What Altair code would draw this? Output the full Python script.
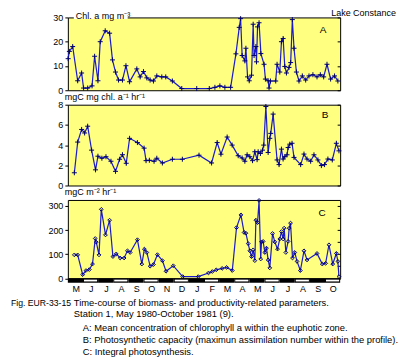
import altair as alt
import pandas as pd

FONT = "Liberation Sans, Arial, sans-serif"
LINE = "#1a1acc"
PT = "#000070"
BG = "#FFFF80"

months = ["M", "J", "J", "A", "S", "O", "N", "D", "J", "F",
          "M", "A", "M", "J", "J", "A", "S", "O"]

# Panel A: chlorophyll a (mg m-3); x = months since 1 May 1980
a_m = [0.02, 0.10, 0.32, 0.65, 0.91, 1.04, 1.31, 1.60, 1.77, 1.99, 2.14, 2.47, 2.76, 2.95,
       3.15, 3.35, 3.61, 3.84, 4.08, 4.56, 4.78, 5.00, 5.22, 5.44, 5.66, 5.88, 6.21, 6.47,
       6.91, 7.53, 8.52, 9.35, 9.72, 10.05, 10.38, 10.76, 11.11, 11.33, 11.42, 11.52, 11.70,
       11.77, 11.88, 11.99, 12.14, 12.25, 12.31, 12.43, 12.47, 12.54, 12.64, 12.76, 12.97,
       13.06, 13.24, 13.30, 13.39, 13.74, 13.83, 14.01, 14.12, 14.23, 14.34, 14.45, 14.62,
       14.73, 14.84, 14.95, 15.11, 15.28, 15.50, 15.72, 15.94, 16.20, 16.47, 16.69, 16.91,
       17.13, 17.37, 17.63, 17.85]
a_v = [13.0, 16.0, 18.0, 3.9, 7.1, 0.9, 0.9, 1.8, 14.0, 3.9, 20.0, 24.5, 23.5, 12.5,
       7.5, 4.2, 4.2, 10.1, 3.5, 8.8, 5.5, 7.7, 5.1, 4.2, 3.8, 5.9, 5.5, 5.5,
       3.8, 0.7, 0.7, 0.7, 1.2, 1.8, 1.2, 1.2, 15.0, 25.9, 29.5, 14.3, 12.1,
       17.3, 5.5, 3.9, 6.2, 27.2, 14.3, 18.0, 11.7, 26.1, 27.8, 15.1, 10.7,
       4.6, 3.9, 0.9, 3.8, 3.8, 10.7, 7.5, 20.0, 21.3, 9.8, 7.1, 9.4,
       11.4, 29.1, 17.3, 7.5, 3.8, 5.9, 4.2, 5.9, 6.4, 5.5, 6.4, 5.5,
       10.7, 4.6, 5.9, 3.8]

# Panel B: photosynthetic capacity (mgC mg chl. a-1 hr-1)
b_m = [0.43, 0.65, 0.91, 1.11, 1.31, 1.57, 1.83, 1.99, 2.25, 2.52, 2.85, 3.15, 3.42, 3.61,
       3.86, 4.08, 4.60, 5.04, 5.17, 5.39, 5.70, 5.88, 6.25, 6.91, 7.57, 8.67, 9.50, 9.87,
       10.12, 10.53, 10.86, 11.26, 11.52, 11.70, 11.85, 12.03, 12.21, 12.36, 12.51, 12.58,
       12.73, 12.87, 12.95, 13.09, 13.24, 13.35, 13.41, 13.57, 13.83, 13.96, 14.12, 14.23,
       14.34, 14.49, 14.56, 14.67, 14.82, 14.95, 15.39, 15.61, 15.81, 16.05, 16.27, 16.53,
       16.76, 16.97, 17.19, 17.48, 17.75, 17.92]
b_v = [1.26, 4.3, 5.55, 5.2, 5.87, 3.5, 1.55, 2.9, 2.7, 2.85, 2.4, 1.4, 2.6, 3.05,
       2.2, 4.67, 4.25, 3.7, 2.46, 2.5, 2.4, 2.7, 2.23, 2.6, 2.6, 3.0, 2.23, 4.25,
       3.1, 4.8, 4.0, 2.95, 2.72, 2.4, 3.04, 2.85, 2.46, 3.34, 2.56, 3.34,
       3.17, 3.5, 4.0, 7.82, 3.27, 4.67, 5.16, 7.07, 2.53, 2.07, 3.6, 2.62,
       2.85, 3.04, 3.76, 4.09, 4.18, 2.78, 2.07, 3.11, 2.62, 2.4, 3.04, 2.53,
       1.97, 2.07, 2.62, 2.53, 4.18, 3.43]

# Panel C: integral photosynthesis (mgC m-2 hr-1)
c_m = [0.43, 0.65, 0.98, 1.20, 1.42, 1.63, 1.81, 1.88, 2.06, 2.21, 2.49, 2.76, 2.98, 3.20,
       3.46, 3.72, 3.94, 4.12, 4.60, 4.89, 5.06, 5.22, 5.44, 5.66, 5.92, 6.25, 6.49, 6.97,
       7.59, 8.62, 9.30, 9.55, 9.81, 10.20, 10.50, 10.87, 11.15, 11.44, 11.65, 11.77, 11.92,
       12.03, 12.14, 12.25, 12.36, 12.43, 12.54, 12.64, 12.75, 12.80, 12.91, 13.02, 13.13,
       13.24, 13.35, 13.53, 13.68, 13.86, 14.01, 14.12, 14.23, 14.30, 14.41, 14.56, 14.63,
       14.72, 14.85, 15.00, 15.15, 15.37, 15.61, 15.81, 16.47, 16.82, 17.04, 17.26, 17.51,
       17.75, 17.85, 17.92]
c_v = [97, 97, 15, 32, 36, 59, 165, 150, 97, 286, 180, 241, 90, 101,
       84, 84, 114, 107, 160, 59, 121, 107, 50, 57, 98, 73, 29, 52,
       7, 7, 22, 28, 35, 41, 45, 32, 210, 263, 190, 187, 144,
       114, 90, 118, 73, 241, 231, 323, 80, 151, 153, 107, 125,
       76, 43, 186, 151, 121, 163, 194, 163, 208, 107, 153, 208,
       229, 84, 107, 70, 32, 114, 76, 103, 59, 62, 139, 59,
       103, 70, 7]

caption_head = "Fig. EUR-33-15"
caption_lines = [
    "Time-course of biomass- and productivity-related parameters.",
    "Station 1, May 1980-October 1981 (9).",
]
caption_items = [
    "A: Mean concentration of chlorophyll a within the euphotic zone.",
    "B: Photosynthetic capacity (maximun assimilation number within the profile).",
    "C: Integral photosynthesis.",
]

W = 273
HA, HB, HC = 73, 81, 78.5
XS = alt.Scale(domain=[0, 18], nice=False, zero=False)


def txt(s, x, y, size=9, align="left", baseline="middle"):
    return alt.Chart(pd.DataFrame({"t": [s]})).mark_text(
        align=align, baseline=baseline, font=FONT, fontSize=size, color="black"
    ).encode(text="t:N", x=alt.value(x), y=alt.value(y))


def panel(m, v, ymax, lticks, rticks, shape, size):
    df = pd.DataFrame({"m": m, "v": v})
    ys = alt.Scale(domain=[0, ymax], nice=False, zero=True)
    base = alt.Chart(df)
    line = base.mark_line(color=LINE, strokeWidth=1.2).encode(
        x=alt.X("m:Q", scale=XS, axis=None),
        y=alt.Y("v:Q", scale=ys, axis=alt.Axis(
            orient="left", values=lticks, title=None, grid=False, domain=False,
            tickSize=3, tickColor="black", labelPadding=2, labelFont=FONT,
            labelFontSize=9, labelColor="black")),
    )
    pts = base.mark_point(shape=shape, size=size, filled=False,
                          color=PT, strokeWidth=1, opacity=1).encode(
        x=alt.X("m:Q", scale=XS, axis=None),
        y=alt.Y("v:Q", scale=ys, axis=alt.Axis(
            orient="right", values=rticks, title=None, grid=False, domain=False,
            labels=False, tickSize=3, offset=-3, tickColor="black")),
    )
    return line, pts


la, pa = panel(a_m, a_v, 30, [0, 10, 20, 30], [0, 10, 20, 30], "M-1,0L1,0M0,-1L0,1", 25)
lb, pb = panel(b_m, b_v, 8, [0, 2, 4, 6, 8], [0, 2, 4, 6, 8], "M-1,0L1,0M0,-1L0,1", 25)
lc, pc = panel(c_m, c_v, 325, [0, 100, 200, 300], [0, 50, 100, 150, 200, 250, 300],
               "diamond", 14)

# Panel A annotations
gap = alt.Chart(pd.DataFrame({"g": [0]})).mark_rect(color="white").encode(
    x=alt.value(6), x2=alt.value(60), y=alt.value(-1.5), y2=alt.value(1.5))
A = alt.layer(
    la, pa, gap,
    txt("Chl. a mg m\u207b\u00b3", 8, -1),
    txt("A", 256, 13, size=10, align="center"),
    txt("Lake Constance", 264, -8.5, size=9, baseline="top"),
).resolve_axis(y="independent").properties(width=W, height=HA)

B = alt.layer(
    lb, pb,
    txt("mgC mg chl. a\u207b\u00b9 hr\u207b\u00b9", -3, -8),
    txt("B", 258, 10, size=10, align="center"),
).resolve_axis(y="independent").properties(width=W, height=HB)

# month band and labels under panel C
mdf = pd.DataFrame({"lab": months, "m": list(range(18))})
mdf["m1"] = mdf["m"] + 1
mdf["mc"] = mdf["m"] + 0.55
mdf["odd"] = mdf["m"] % 2
band = alt.Chart(mdf).mark_rect(color="black").encode(
    x=alt.X("m:Q", scale=XS, axis=None), x2="m1:Q",
    y=alt.value(HC), y2=alt.value(HC + 4.5))
white = alt.Chart(mdf).transform_filter("datum.odd == 1").mark_rect(
    color="white", xOffset=1, x2Offset=-1).encode(
    x=alt.X("m:Q", scale=XS, axis=None), x2="m1:Q",
    y=alt.value(HC + 1.4), y2=alt.value(HC + 3.2))
mlab = alt.Chart(mdf).mark_text(font=FONT, fontSize=9, color="black",
                                baseline="middle").encode(
    x=alt.X("mc:Q", scale=XS, axis=None), y=alt.value(HC + 11), text="lab:N")

C = alt.layer(
    lc, pc, band, white, mlab,
    txt("mgC m\u207b\u00b2 hr\u207b\u00b9", -3, -7.5),
    txt("C", 255, 12.8, size=10, align="center"),
    txt(caption_head, -57, HC + 25.3, size=8.7),
    txt(caption_lines[0], 6, HC + 25.3, size=9.4),
    txt(caption_lines[1], 6, HC + 35.7, size=9.4),
    txt(caption_items[0], 15, HC + 50.3, size=9.4),
    txt(caption_items[1], 15, HC + 62, size=9.4),
    txt(caption_items[2], 15, HC + 73.7, size=9.4),
).resolve_axis(y="independent").properties(width=W, height=HC)

chart = alt.vconcat(A, B, C, spacing=14.5, bounds="flush").properties(
    padding={"left": 2, "top": 0, "right": 0, "bottom": 0},
    background="white",
).configure_view(stroke="black", strokeWidth=1, fill=BG)

chart.save("out.html", embed_options={"renderer": "svg", "actions": False})
